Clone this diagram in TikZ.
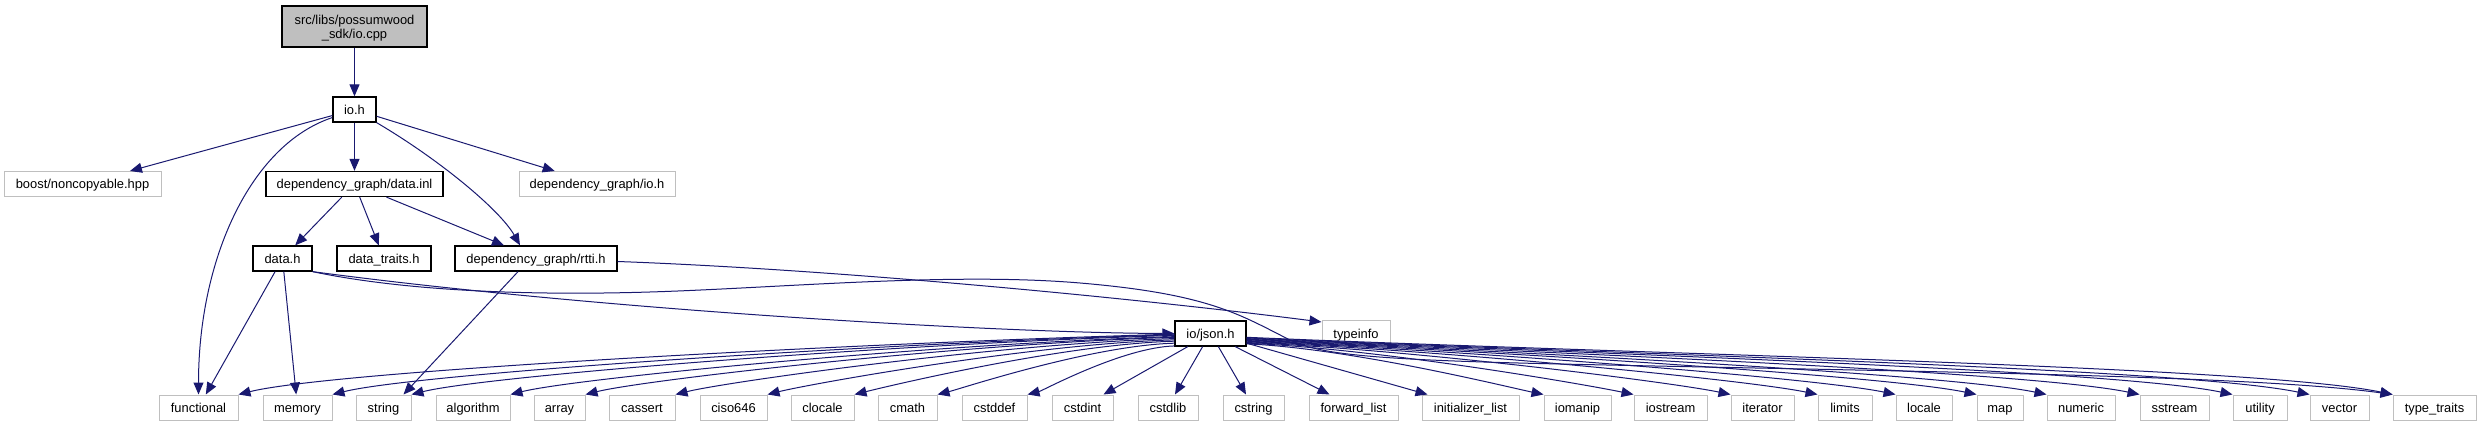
\documentclass[tikz,border=0pt]{standalone}
\usepackage{fontspec}
\setmainfont{Liberation Sans}
\usetikzlibrary{arrows.meta}
\definecolor{edgeblue}{RGB}{25,25,112}
\definecolor{extgrey}{RGB}{191,191,191}
\tikzset{
  nbox/.style={rectangle, inner sep=0pt, minimum height=25pt, text height=9.2pt, text depth=0pt, font=\fontsize{12.9}{14}\selectfont},
  docbox/.style={nbox, draw=black, line width=1.3pt, fill=white},
  extbox/.style={nbox, draw=extgrey, line width=1pt, fill=white},
  dep/.style={draw=edgeblue, line width=1pt, -{Triangle[length=12pt,width=10pt]}},
}
\newcommand\jsonL[3]{%
  \pgfmathsetmacro\ja{-0.35*#3}\pgfmathsetmacro\jb{0.01*#3}%
  \pgfmathsetmacro\jc{0.1*#3}\pgfmathsetmacro\jd{-0.025*#3}%
  \draw[dep] (jsonh.#2) .. controls +(\ja,\jb) and +(\jc,\jd) .. (#1.north east);}
\newcommand\jsonR[3]{%
  \pgfmathsetmacro\ja{0.35*#3}\pgfmathsetmacro\jb{0.015*#3}%
  \pgfmathsetmacro\jc{-0.12*#3}\pgfmathsetmacro\jd{-0.025*#3}%
  \draw[dep] (jsonh.#2) .. controls +(\ja,\jb) and +(\jc,\jd) .. (#1.north west);}
\begin{document}
\begin{tikzpicture}[x=1pt, y=-1pt]
\useasboundingbox (0,0) rectangle (2481,427);
% nodes
\node[docbox, fill=extgrey, align=center, text height=23.2pt, text depth=0pt, minimum width=145pt, minimum height=41pt] (iocpp) at (354.5,26.5) {src/libs/possumwood\\\_sdk/io.cpp};
\node[docbox, minimum width=43pt] (ioh) at (354.5,109.5) {io.h};
\node[extbox, minimum width=157pt] (boost) at (82.5,184) {boost/noncopyable.hpp};
\node[docbox, minimum width=177pt] (datainl) at (354.5,184) {dependency\_graph/data.inl};
\node[extbox, minimum width=156pt] (depioh) at (597,184) {dependency\_graph/io.h};
\node[docbox, minimum width=59pt] (datah) at (282.5,258.5) {data.h};
\node[docbox, minimum width=94pt] (datatraits) at (384,258.5) {data\_traits.h};
\node[docbox, minimum width=162pt] (rtti) at (536,258.5) {dependency\_graph/rtti.h};
\node[docbox, minimum width=71pt] (jsonh) at (1210.5,333.5) {io/json.h};
\node[extbox, minimum width=68pt] (typeinfo) at (1356,333.5) {typeinfo};
% bottom row
\node[extbox, minimum width=79pt] (functional) at (198.5,407.5) {functional};
\node[extbox, minimum width=69pt] (memory) at (297.5,407.5) {memory};
\node[extbox, minimum width=55pt] (string) at (383.5,407.5) {string};
\node[extbox, minimum width=74pt] (algorithm) at (473,407.5) {algorithm};
\node[extbox, minimum width=51pt] (array) at (559.5,407.5) {array};
\node[extbox, minimum width=66pt] (cassert) at (642,407.5) {cassert};
\node[extbox, minimum width=67pt] (ciso) at (733.5,407.5) {ciso646};
\node[extbox, minimum width=63pt] (clocale) at (822.5,407.5) {clocale};
\node[extbox, minimum width=59pt] (cmath) at (907.5,407.5) {cmath};
\node[extbox, minimum width=65pt] (cstddef) at (994.5,407.5) {cstddef};
\node[extbox, minimum width=61pt] (cstdint) at (1082.5,407.5) {cstdint};
\node[extbox, minimum width=60pt] (cstdlib) at (1168,407.5) {cstdlib};
\node[extbox, minimum width=61pt] (cstring) at (1253.5,407.5) {cstring};
\node[extbox, minimum width=89pt] (fwdlist) at (1353.5,407.5) {forward\_list};
\node[extbox, minimum width=97pt] (initlist) at (1470.5,407.5) {initializer\_list};
\node[extbox, minimum width=67pt] (iomanip) at (1577.5,407.5) {iomanip};
\node[extbox, minimum width=73pt] (iostream) at (1670.5,407.5) {iostream};
\node[extbox, minimum width=63pt] (iterator) at (1762.5,407.5) {iterator};
\node[extbox, minimum width=54pt] (limits) at (1845,407.5) {limits};
\node[extbox, minimum width=56pt] (locale) at (1924,407.5) {locale};
\node[extbox, minimum width=46pt] (map) at (2000,407.5) {map};
\node[extbox, minimum width=68pt] (numeric) at (2081,407.5) {numeric};
\node[extbox, minimum width=69pt] (sstream) at (2174.5,407.5) {sstream};
\node[extbox, minimum width=54pt] (utility) at (2260,407.5) {utility};
\node[extbox, minimum width=59pt] (vector) at (2339.5,407.5) {vector};
\node[extbox, minimum width=83pt] (typetraits) at (2434.5,407.5) {type\_traits};
% edges from the upper part
\draw[dep] (iocpp) -- (ioh);
\draw[dep] (ioh) -- (boost);
\draw[dep] (ioh.200) .. controls (250,145) and (198.5,260) .. (functional.north);
\draw[dep] (ioh) -- (datainl);
\draw[dep] (ioh) -- (depioh);
\draw[dep] (ioh.south east) .. controls (440,160) and (500,210) .. ([xshift=-16pt]rtti.north);
\draw[dep] (datainl) -- (datah);
\draw[dep] (datainl) -- (datatraits);
\draw[dep] (datainl) -- (rtti);
\draw[dep] (datah) -- (functional);
\draw[dep] (datah) -- (memory);
\draw[dep] (datah.south east) .. controls (600,310) and (1000,333) .. (jsonh.west);
\draw[dep] (datah.south east) .. controls (400,290) and (520,296) .. (650,292)
  .. controls (780,288) and (950,272) .. (1080,283)
  .. controls (1210,294) and (1240,315) .. (1290,340)
  .. controls (1320,355) and (1380,360) .. (1560,364)
  .. controls (1900,371.5) and (2253,375) .. (typetraits.north west);
\draw[dep] ([xshift=-18pt]rtti.south) -- ([xshift=20pt]string.north);
\draw[dep] ([yshift=-3pt]rtti.east) .. controls (850,270) and (1150,300) .. ([yshift=-1.5pt]typeinfo.north west);
% edges from io/json.h
\jsonL{functional}{181}{937}
\jsonL{memory}{182}{843}
\jsonL{string}{183}{764}
\jsonL{algorithm}{185}{665}
\jsonL{array}{186}{590}
\jsonL{cassert}{188}{500}
\jsonL{ciso}{190}{408}
\jsonL{clocale}{192}{321}
\jsonL{cmath}{195}{238}
\jsonL{cstddef}{199}{148}
\draw[dep] (jsonh.210) -- ([xshift=-10pt]cstdint.north east);
\draw[dep] (jsonh.239) -- ([xshift=7pt]cstdlib.north);
\draw[dep] (jsonh.301) -- ([xshift=-7.5pt]cstring.north);
\draw[dep] (jsonh.332) -- ([xshift=21pt]fwdlist.north west);
\draw[dep] (jsonh.345) -- ([xshift=6pt]initlist.north west);
\jsonR{iomanip}{344}{298}
\jsonR{iostream}{345}{388}
\jsonR{iterator}{346}{485}
\jsonR{limits}{347}{572}
\jsonR{locale}{348}{650}
\jsonR{map}{349}{731}
\jsonR{numeric}{350}{801}
\jsonR{sstream}{351}{894}
\jsonR{utility}{352}{987}
\jsonR{vector}{353}{1064}
\jsonR{typetraits}{354}{1147}
\end{tikzpicture}
\end{document}
